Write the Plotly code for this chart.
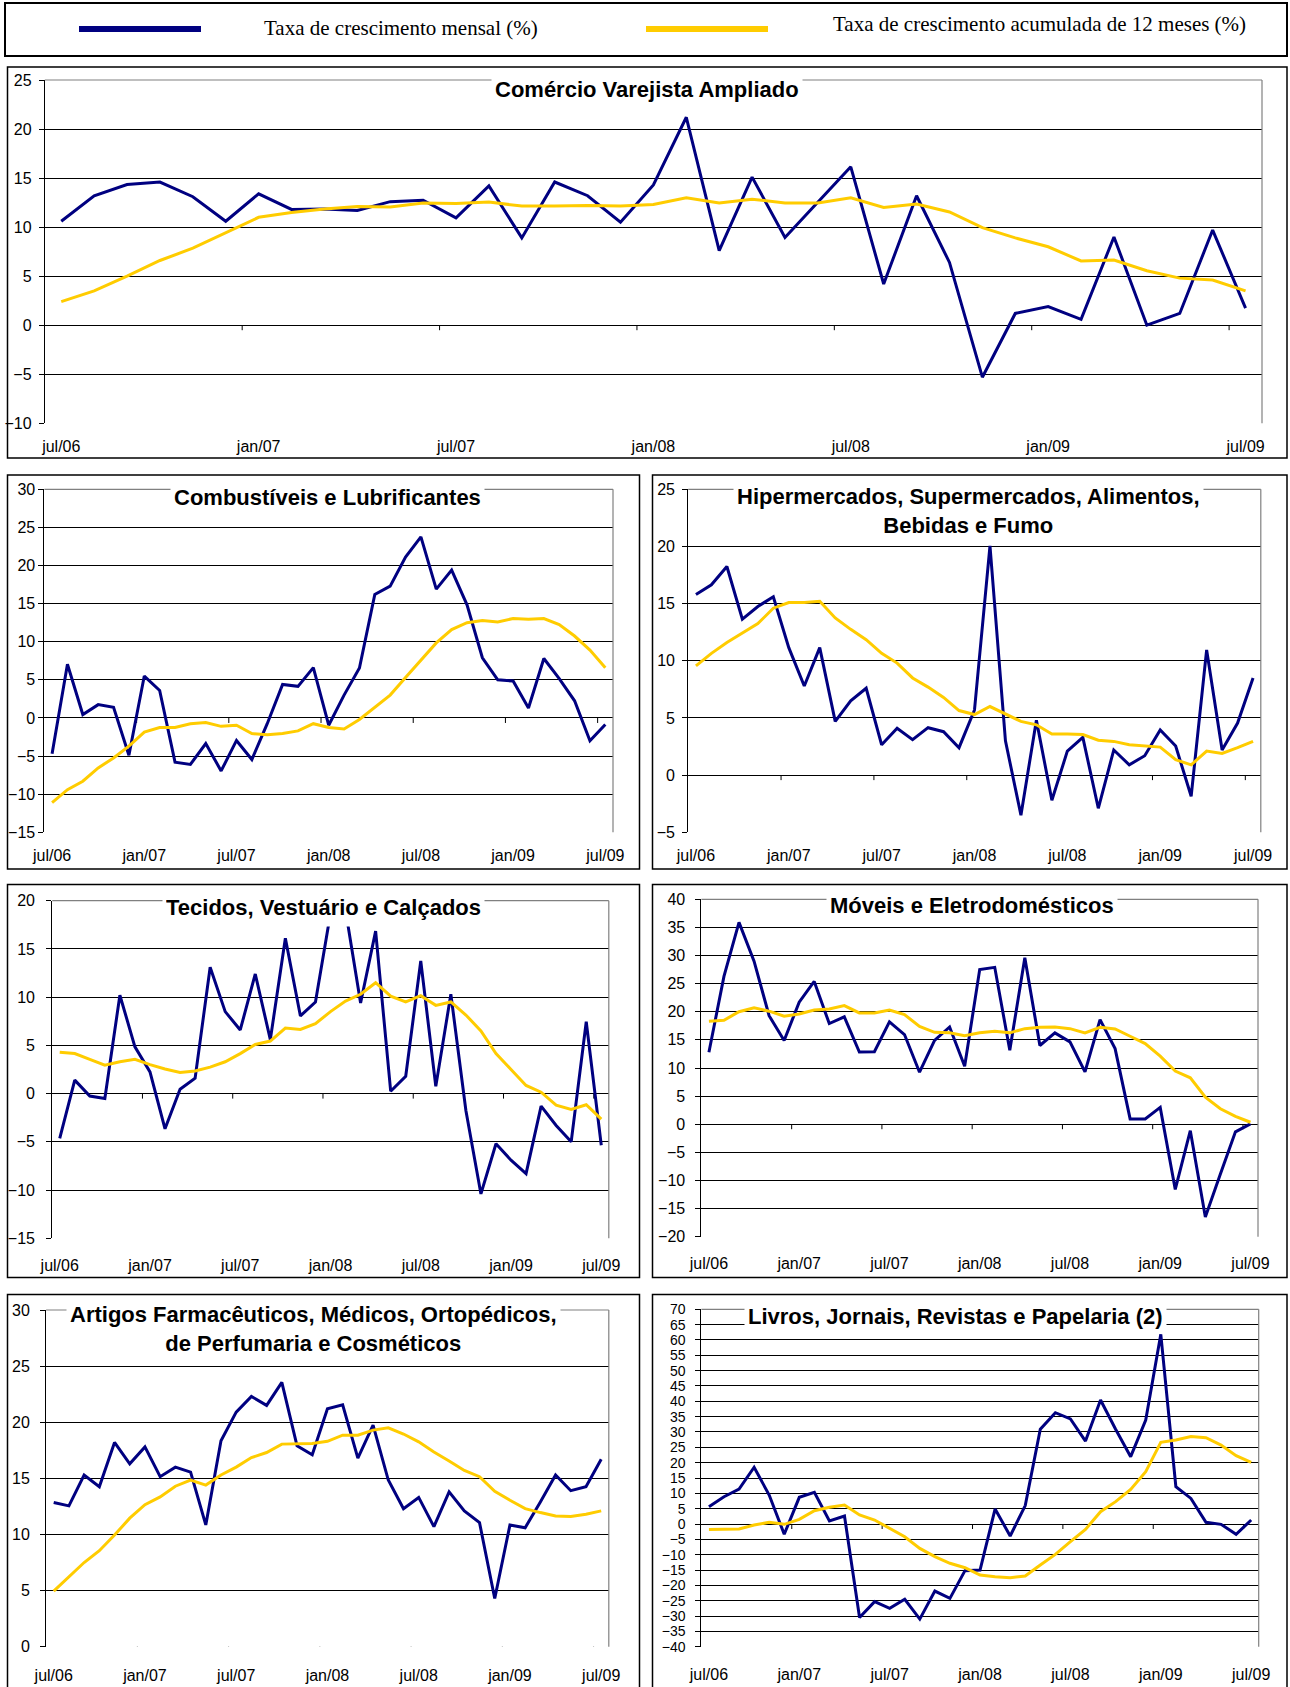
import plotly.graph_objects as go

W, H = 1290, 1687

# ---------------- data ----------------
meses = ["jul/06", "ago/06", "set/06", "out/06", "nov/06", "dez/06",
         "jan/07", "fev/07", "mar/07", "abr/07", "mai/07", "jun/07",
         "jul/07", "ago/07", "set/07", "out/07", "nov/07", "dez/07",
         "jan/08", "fev/08", "mar/08", "abr/08", "mai/08", "jun/08",
         "jul/08", "ago/08", "set/08", "out/08", "nov/08", "dez/08",
         "jan/09", "fev/09", "mar/09", "abr/09", "mai/09", "jun/09",
         "jul/09"]
rotulos_x = ["jul/06", "jan/07", "jul/07", "jan/08", "jul/08", "jan/09", "jul/09"]

varejo_mensal = [10.6, 13.2, 14.35, 14.6, 13.1, 10.6, 13.4, 11.8, 11.85, 11.7, 12.6, 12.75,
                 10.95, 14.2, 8.9, 14.6, 13.2, 10.5, 14.3, 21.2, 7.6, 15.1, 8.95, 12.5,
                 16.15, 4.2, 13.2, 6.4, -5.3, 1.2, 1.9, 0.6, 9.0, 0.0, 1.2, 9.7, 1.75]
varejo_acum = [2.4, 3.5, 5.0, 6.6, 7.85, 9.45, 11.0, 11.5, 11.85, 12.1, 12.05, 12.45,
               12.4, 12.55, 12.15, 12.15, 12.2, 12.15, 12.3, 13.0, 12.45, 12.85, 12.45, 12.45,
               13.0, 12.0, 12.35, 11.55, 9.95, 8.9, 8.0, 6.55, 6.65, 5.55, 4.8, 4.6, 3.5]

comb_mensal = [-4.7, 7.05, 0.45, 1.75, 1.4, -4.9, 5.5, 3.6, -5.8, -6.1, -3.35, -6.95,
               -2.95, -5.45, -0.75, 4.4, 4.15, 6.6, -0.95, 3.0, 6.55, 16.2, 17.3, 21.1,
               23.75, 16.9, 19.4, 14.85, 7.9, 5.0, 4.85, 1.3, 7.8, 5.15, 2.25, -3.0, -0.85]
comb_acum = [-11.1, -9.4, -8.3, -6.55, -5.25, -3.7, -1.85, -1.25, -1.25, -0.75, -0.6, -1.1,
             -0.95, -2.05, -2.2, -2.05, -1.7, -0.75, -1.25, -1.45, -0.2, 1.35, 3.0, 5.3,
             7.65, 9.85, 11.6, 12.5, 12.8, 12.6, 13.05, 12.95, 13.05, 12.25, 10.75, 8.9, 6.6]

hiper_mensal = [15.8, 16.65, 18.25, 13.65, 14.75, 15.6, 11.15, 7.8, 11.15, 4.7, 6.5, 7.6,
                2.65, 4.1, 3.1, 4.15, 3.8, 2.4, 5.7, 20.05, 3.0, -3.5, 4.8, -2.2,
                2.1, 3.3, -2.9, 2.2, 0.9, 1.7, 3.95, 2.55, -1.85, 10.95, 2.2, 4.55, 8.5]
hiper_acum = [9.55, 10.65, 11.6, 12.4, 13.25, 14.6, 15.1, 15.1, 15.2, 13.75, 12.75, 11.85,
              10.65, 9.8, 8.5, 7.7, 6.8, 5.65, 5.3, 6.0, 5.35, 4.7, 4.4, 3.6,
              3.6, 3.55, 3.05, 2.95, 2.65, 2.55, 2.45, 1.35, 0.9, 2.1, 1.9, 2.4, 2.95]

tec_mensal = [-4.65, 1.4, -0.25, -0.5, 10.2, 4.85, 2.25, -3.65, 0.45, 1.6, 13.1, 8.5,
              6.6, 12.4, 5.6, 16.1, 8.05, 9.5, 18.7, 19.0, 9.4, 16.85, 0.25, 1.8,
              13.75, 0.75, 10.3, -1.75, -10.4, -5.2, -6.9, -8.3, -1.3, -3.3, -5.0, 7.45, -5.35]
tec_acum = [4.3, 4.15, 3.55, 2.95, 3.3, 3.55, 3.0, 2.55, 2.2, 2.35, 2.75, 3.3,
            4.15, 5.1, 5.45, 6.8, 6.65, 7.25, 8.5, 9.6, 10.3, 11.5, 10.1, 9.5,
            10.15, 9.15, 9.5, 8.15, 6.5, 4.15, 2.5, 0.85, 0.15, -1.2, -1.65, -1.15, -2.65]

moveis_mensal = [12.8, 26.3, 35.9, 29.0, 19.3, 14.9, 21.7, 25.4, 17.9, 19.1, 12.85, 12.9,
                 18.2, 15.95, 9.25, 14.9, 17.3, 10.3, 27.5, 27.9, 13.15, 29.6, 14.0, 16.25,
                 14.65, 9.3, 18.6, 13.45, 0.95, 0.95, 3.0, -11.6, -1.15, -16.5, -8.85, -1.35, 0.05]
moveis_acum = [18.3, 18.5, 20.0, 20.7, 20.1, 19.2, 19.6, 20.3, 20.5, 21.1, 19.8, 19.8,
               20.3, 19.5, 17.4, 16.35, 16.25, 15.75, 16.25, 16.55, 16.25, 17.0, 17.25, 17.3,
               17.0, 16.25, 17.25, 16.95, 15.65, 14.35, 12.1, 9.45, 8.25, 4.8, 2.75, 1.4, 0.35]

farma_mensal = [12.85, 12.55, 15.3, 14.25, 18.2, 16.3, 17.8, 15.15, 16.0, 15.55, 10.85, 18.35,
                20.9, 22.3, 21.5, 23.55, 17.9, 17.1, 21.2, 21.55, 16.8, 19.75, 14.85, 12.3,
                13.3, 10.7, 13.8, 12.1, 11.05, 4.3, 10.85, 10.6, 12.9, 15.3, 13.9, 14.25, 16.7]
farma_acum = [4.95, 6.25, 7.5, 8.55, 9.95, 11.45, 12.65, 13.35, 14.3, 14.85, 14.4, 15.3,
              16.0, 16.85, 17.3, 18.05, 18.05, 18.1, 18.3, 18.85, 18.85, 19.3, 19.5, 18.95,
              18.25, 17.35, 16.55, 15.7, 15.15, 13.85, 13.05, 12.3, 11.95, 11.65, 11.6, 11.8, 12.1]

livros_mensal = [5.65, 8.9, 11.4, 18.5, 9.45, -3.35, 8.7, 10.3, 1.0, 2.6, -30.5, -25.3,
                 -27.5, -24.55, -31.0, -21.85, -24.25, -15.2, -15.0, 4.9, -3.9, 6.0, 30.9, 36.3,
                 34.25, 27.05, 40.45, 30.9, 21.95, 33.9, 61.85, 12.15, 8.35, 0.55, -0.1, -3.35, 1.3]
livros_acum = [-1.75, -1.65, -1.65, -0.35, 0.55, -0.1, 1.5, 4.35, 5.45, 6.2, 2.95, 1.3,
               -1.4, -4.15, -7.95, -10.65, -12.8, -14.25, -16.65, -17.2, -17.5, -16.95, -13.35, -9.9,
               -5.75, -1.75, 4.0, 7.3, 11.3, 17.05, 26.65, 27.4, 28.5, 28.15, 25.75, 22.3, 20.1]

serie_nomes = ["Taxa de crescimento mensal (%)",
               "Taxa de crescimento acumulada de 12 meses (%)"]

# ---------------- styling / layout ----------------
AZUL = "#000080"
AMARELO = "#FFCC00"
CINZA = "#808080"
FONTE = "Liberation Sans"


def fx(p):
    return p / W


def fy(p):
    return 1 - p / H


paineis = [
    dict(titulo="Comércio Varejista Ampliado", m=varejo_mensal, a=varejo_acum,
         yr=(-10, 25), dt=5, plot=(44.8, 1262, 80, 423.3), box=(7.5, 1287, 67, 458),
         tpos=(646.5, 89), th=None, ygap=12, xlab=446.7, yfs=16),
    dict(titulo="Combustíveis e Lubrificantes", m=comb_mensal, a=comb_acum,
         yr=(-15, 30), dt=5, plot=(44.4, 613, 489.3, 832.3), box=(7.5, 639.5, 475, 869),
         tpos=(327.5, 497), th=None, ygap=8.5, xlab=855.7, yfs=16),
    dict(titulo="Hipermercados, Supermercados, Alimentos,<br>Bebidas e Fumo",
         m=hiper_mensal, a=hiper_acum,
         yr=(-5, 25), dt=5, plot=(688.2, 1260.8, 489.3, 832.3), box=(652.5, 1287, 475, 869),
         tpos=(968, 511), th=None, ygap=12.3, xlab=855.7, yfs=16),
    dict(titulo="Tecidos, Vestuário e Calçados", m=tec_mensal, a=tec_acum,
         yr=(-15, 20), dt=5, plot=(52.2, 608.8, 900.7, 1238.3), box=(7.5, 639.5, 884.5, 1277.5),
         tpos=(323.3, 907), th=32, ygap=16, xlab=1265.7, yfs=16),
    dict(titulo="Móveis e Eletrodomésticos", m=moveis_mensal, a=moveis_acum,
         yr=(-20, 40), dt=5, plot=(701.4, 1258, 899.3, 1236.7), box=(652.5, 1287, 884.5, 1277.5),
         tpos=(972, 905), th=None, ygap=15.4, xlab=1263, yfs=16),
    dict(titulo="Artigos Farmacêuticos, Médicos, Ortopédicos,<br>de Perfumaria e Cosméticos",
         m=farma_mensal, a=farma_acum,
         yr=(0, 30), dt=5, plot=(46.1, 608.8, 1310, 1646.7), box=(7.5, 639.5, 1294.5, 1720),
         tpos=(313, 1329), th=None, ygap=15, xlab=1675, yfs=16),
    dict(titulo="Livros, Jornais, Revistas e Papelaria (2)", m=livros_mensal, a=livros_acum,
         yr=(-40, 70), dt=5, plot=(701.4, 1258.7, 1309.3, 1646.7), box=(652.5, 1287, 1294.5, 1720),
         tpos=(955.5, 1316), th=None, ygap=15.3, xlab=1674, yfs=14),
]

fig = go.Figure()
shapes = []
annotations = []
layout_axes = {}

for i, p in enumerate(paineis, start=1):
    sfx = "" if i == 1 else str(i)
    xa, ya = "x" + sfx, "y" + sfx
    fig.add_trace(go.Scatter(x=meses, y=p["m"], mode="lines", name=serie_nomes[0],
                             line=dict(color=AZUL, width=3), xaxis=xa, yaxis=ya,
                             showlegend=False, hoverinfo="skip"))
    fig.add_trace(go.Scatter(x=meses, y=p["a"], mode="lines", name=serie_nomes[1],
                             line=dict(color=AMARELO, width=3), xaxis=xa, yaxis=ya,
                             showlegend=False, hoverinfo="skip"))
    l, r, t, b = p["plot"]
    layout_axes["xaxis" + sfx] = dict(
        domain=[fx(l), fx(r)], anchor=ya, type="category", automargin=False,
        range=[-0.5, len(meses) - 0.5], showgrid=False, zeroline=False, showline=False,
        ticks="", tickvals=rotulos_x, ticktext=rotulos_x,
        tickfont=dict(family=FONTE, size=16, color="black"),
        ticklabelstandoff=max(0, int(round(p["xlab"] - b - 11))),
    )
    layout_axes["yaxis" + sfx] = dict(
        domain=[fy(b), fy(t)], anchor=xa, range=list(p["yr"]), dtick=p["dt"], tick0=0,
        automargin=False,
        showgrid=True, gridcolor="black", gridwidth=1, zeroline=False,
        showline=True, linecolor="black", linewidth=1,
        ticks="outside", ticklen=5, tickcolor="black", tickwidth=1,
        tickfont=dict(family=FONTE, size=p["yfs"], color="black"),
        ticklabelstandoff=max(0, int(round(p["ygap"] - 8))),
    )
    # plot-area border (top & right, grey)
    shapes.append(dict(type="line", xref="paper", yref="paper", x0=fx(l), x1=fx(r),
                       y0=fy(t), y1=fy(t), line=dict(color=CINZA, width=1.2), layer="above"))
    shapes.append(dict(type="line", xref="paper", yref="paper", x0=fx(r), x1=fx(r),
                       y0=fy(t), y1=fy(b), line=dict(color=CINZA, width=1.2), layer="above"))
    # category boundary ticks on the crossing line every 6 months
    y_cross = max(p["yr"][0], 0)
    for k in range(6, len(meses) + 1, 6):
        shapes.append(dict(type="line", xref=xa, yref=ya, x0=k - 0.5, x1=k - 0.5,
                           ysizemode="pixel", yanchor=y_cross, y0=0, y1=-5,
                           line=dict(color="black", width=1), layer="below"))
    # outer panel frame
    bl, br, bt, bb = p["box"]
    shapes.append(dict(type="rect", xref="paper", yref="paper", x0=fx(bl), x1=fx(br),
                       y0=fy(bb), y1=fy(bt), line=dict(color="black", width=1.5),
                       fillcolor="rgba(0,0,0,0)", layer="above"))
    # title with white box
    cx, cy = p["tpos"]
    ann = dict(text=f"<b>{p['titulo']}</b>", xref="paper", yref="paper",
               x=fx(cx), y=fy(cy), xanchor="center", yanchor="middle",
               showarrow=False, bgcolor="white", borderpad=3,
               font=dict(family=FONTE, size=22, color="black"))
    if p["th"]:
        ann["height"] = p["th"]
    annotations.append(ann)

# legend box (top)
shapes.append(dict(type="rect", xref="paper", yref="paper", x0=fx(5), x1=fx(1287),
                   y0=fy(56), y1=fy(3), line=dict(color="black", width=2),
                   fillcolor="rgba(0,0,0,0)"))
shapes.append(dict(type="line", xref="paper", yref="paper", x0=fx(79), x1=fx(201),
                   y0=fy(29), y1=fy(29), line=dict(color=AZUL, width=6)))
shapes.append(dict(type="line", xref="paper", yref="paper", x0=fx(646), x1=fx(768),
                   y0=fy(29), y1=fy(29), line=dict(color=AMARELO, width=6)))
annotations.append(dict(text=serie_nomes[0], xref="paper", yref="paper", x=fx(401), y=fy(28),
                        xanchor="center", yanchor="middle", showarrow=False,
                        font=dict(family="Liberation Serif", size=21, color="black")))
annotations.append(dict(text=serie_nomes[1], xref="paper", yref="paper", x=fx(1039.5), y=fy(24),
                        xanchor="center", yanchor="middle", showarrow=False,
                        font=dict(family="Liberation Serif", size=21, color="black")))

fig.update_layout(
    width=W, height=H, margin=dict(l=0, r=0, t=0, b=0, autoexpand=False),
    paper_bgcolor="white", plot_bgcolor="white", showlegend=False,
    shapes=shapes, annotations=annotations, **layout_axes,
)

fig.write_html(
    "out.html",
    config={"displayModeBar": False},
    post_script=("document.documentElement.style.margin='0';"
                 "document.body.style.margin='0';"
                 "document.body.style.padding='0';"),
)
